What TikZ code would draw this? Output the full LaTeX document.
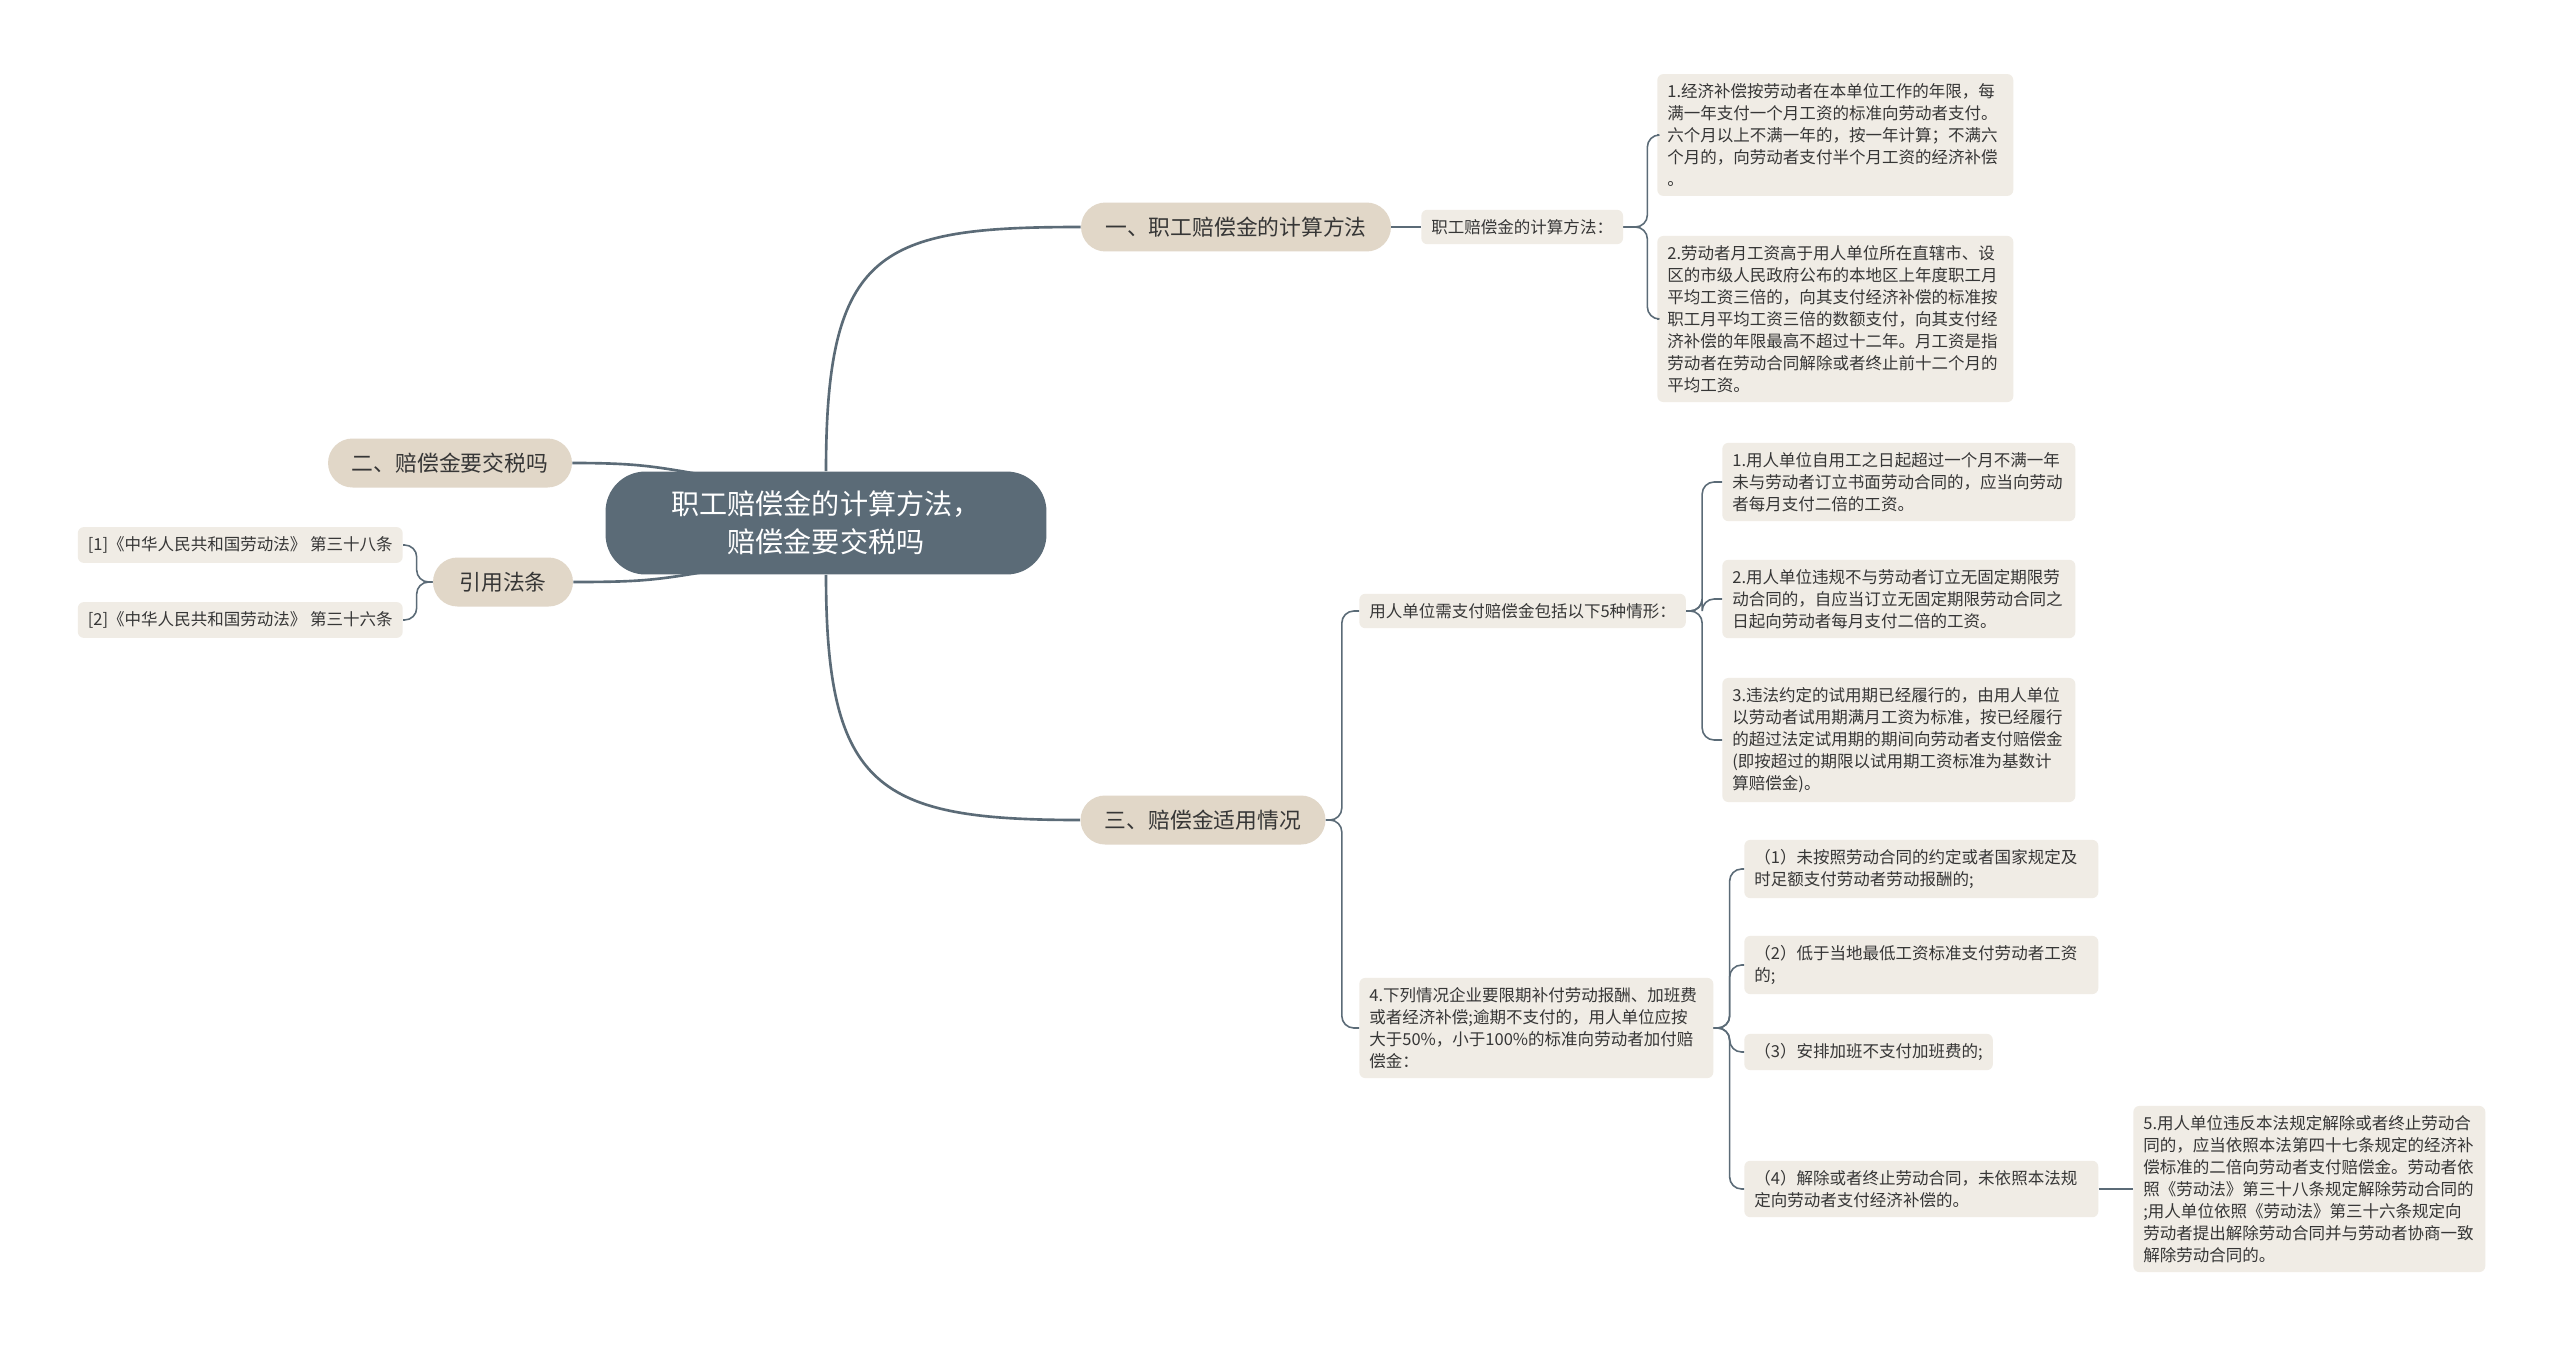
\documentclass[tikz,border=0pt]{standalone}
\usepackage{fontspec}
\usepackage{xcolor}
\usepackage{tikz}
\usetikzlibrary{calc,backgrounds}
\newfontfamily\cjk{Noto Sans CJK SC}
\definecolor{slate}{HTML}{5B6B77}
\definecolor{topicfill}{HTML}{E1D7C8}
\definecolor{leaffill}{HTML}{F0ECE5}
\definecolor{inkgray}{HTML}{363636}

\begin{document}
\begin{tikzpicture}[x=0.02cm,y=-0.02cm,font=\cjk,
  rootbox/.style={fill=slate,text=white,rounded corners=0.8cm,minimum width=8.82cm,
    minimum height=2.06cm,align=center,font=\cjk\fontsize{16}{21.5}\selectfont},
  topic/.style={fill=topicfill,text=inkgray,rounded corners=0.49cm,minimum height=0.98cm,
    font=\cjk\fontsize{12.4}{15}\selectfont},
  leaf/.style={fill=leaffill,text=inkgray,rounded corners=0.12cm,inner xsep=0.2cm,
    inner ysep=0.19cm,align=left,font=\cjk\fontsize{9.4}{12.5}\selectfont},
  branchline/.style={draw=slate,line width=1.5pt},
  twig/.style={draw=slate,line width=0.9pt,rounded corners=0.24cm}]
  \useasboundingbox (0,0) rectangle (2560,1349);

  \node[rootbox] (root) at (826,523) {职工赔偿金的计算方法，\\赔偿金要交税吗};

  \node[topic,minimum width=6.2cm] (calc) at (1236,227) {一、职工赔偿金的计算方法};
  \node[topic,minimum width=4.88cm] (tax) at (450,463) {二、赔偿金要交税吗};
  \node[topic,minimum width=2.8cm] (law) at (503,582) {引用法条};
  \node[topic,minimum width=4.9cm] (cases) at (1203,820) {三、赔偿金适用情况};

  \node[leaf,anchor=west] (calcsub) at (1421,227) {职工赔偿金的计算方法：};
  \node[leaf,anchor=west,text width=6.72cm] (calcA) at (1657,135) {1.经济补偿按劳动者在本单位工作的年限，每\\满一年支付一个月工资的标准向劳动者支付。\\六个月以上不满一年的，按一年计算；不满六\\个月的，向劳动者支付半个月工资的经济补偿\\。};
  \node[leaf,anchor=west,text width=6.72cm] (calcB) at (1657,319) {2.劳动者月工资高于用人单位所在直辖市、设\\区的市级人民政府公布的本地区上年度职工月\\平均工资三倍的，向其支付经济补偿的标准按\\职工月平均工资三倍的数额支付，向其支付经\\济补偿的年限最高不超过十二年。月工资是指\\劳动者在劳动合同解除或者终止前十二个月的\\平均工资。};

  \node[leaf,anchor=east] (lawA) at (403,545) {[1]《中华人民共和国劳动法》 第三十八条};
  \node[leaf,anchor=east] (lawB) at (403,620) {[2]《中华人民共和国劳动法》 第三十六条};

  \node[leaf,anchor=west] (pay) at (1359,611) {用人单位需支付赔偿金包括以下5种情形：};
  \node[leaf,anchor=west,text width=6.66cm] (payA) at (1722,482) {1.用人单位自用工之日起超过一个月不满一年\\未与劳动者订立书面劳动合同的，应当向劳动\\者每月支付二倍的工资。};
  \node[leaf,anchor=west,text width=6.66cm] (payB) at (1722,599) {2.用人单位违规不与劳动者订立无固定期限劳\\动合同的，自应当订立无固定期限劳动合同之\\日起向劳动者每月支付二倍的工资。};
  \node[leaf,anchor=west,text width=6.66cm] (payC) at (1722,740) {3.违法约定的试用期已经履行的，由用人单位\\以劳动者试用期满月工资为标准，按已经履行\\的超过法定试用期的期间向劳动者支付赔偿金\\(即按超过的期限以试用期工资标准为基数计\\算赔偿金)。};

  \node[leaf,anchor=west,text width=6.68cm] (late) at (1359,1028) {4.下列情况企业要限期补付劳动报酬、加班费\\或者经济补偿;逾期不支付的，用人单位应按\\大于50\%，小于100\%的标准向劳动者加付赔\\偿金：};
  \node[leaf,anchor=west,text width=6.68cm] (lateA) at (1744,869) {（1）未按照劳动合同的约定或者国家规定及\\时足额支付劳动者劳动报酬的;};
  \node[leaf,anchor=west,text width=6.68cm] (lateB) at (1744,965) {（2）低于当地最低工资标准支付劳动者工资\\的;};
  \node[leaf,anchor=west] (lateC) at (1744,1052) {（3）安排加班不支付加班费的;};
  \node[leaf,anchor=west,text width=6.68cm] (lateD) at (1744,1189) {（4）解除或者终止劳动合同，未依照本法规\\定向劳动者支付经济补偿的。};
  \node[leaf,anchor=west,text width=6.64cm] (lateE) at (2133,1189) {5.用人单位违反本法规定解除或者终止劳动合\\同的，应当依照本法第四十七条规定的经济补\\偿标准的二倍向劳动者支付赔偿金。劳动者依\\照《劳动法》第三十八条规定解除劳动合同的\\;用人单位依照《劳动法》第三十六条规定向\\劳动者提出解除劳动合同并与劳动者协商一致\\解除劳动合同的。};

  \begin{pgfonlayer}{background}
    \fill[white] (0,0) rectangle (2560,1349);
    \draw[branchline] (root.north) .. controls +(0,-222) and +(-201,0) .. (calc.west);
    \draw[branchline] (root.south) .. controls +(0,215) and +(-201,0) .. (cases.west);
    \draw[branchline] (tax.east) .. controls +(70,0) and +(-60,-10) .. ($(root.center)+(-110,-46)$);
    \draw[branchline] (law.east) .. controls +(70,0) and +(-60,10) .. ($(root.center)+(-110,47)$);
  \end{pgfonlayer}

  \draw[twig] (calc.east) -- (calcsub.west);
  \draw[twig] (calcsub.east) -- ++(24,0) |- (calcA.west);
  \draw[twig] (calcsub.east) -- ++(24,0) |- (calcB.west);
  \draw[twig] (law.west) -- ++(-16,0) |- (lawA.east);
  \draw[twig] (law.west) -- ++(-16,0) |- (lawB.east);
  \draw[twig] (cases.east) -- ++(16,0) |- (pay.west);
  \draw[twig] (cases.east) -- ++(16,0) |- (late.west);
  \draw[twig] (pay.east) -- ++(16,0) |- (payA.west);
  \draw[twig] (pay.east) -- ++(16,0) |- (payB.west);
  \draw[twig] (pay.east) -- ++(16,0) |- (payC.west);
  \draw[twig] (late.east) -- ++(16,0) |- (lateA.west);
  \draw[twig] (late.east) -- ++(16,0) |- (lateB.west);
  \draw[twig] (late.east) -- ++(16,0) |- (lateC.west);
  \draw[twig] (late.east) -- ++(16,0) |- (lateD.west);
  \draw[twig] (lateD.east) -- (lateE.west);
\end{tikzpicture}
\end{document}
